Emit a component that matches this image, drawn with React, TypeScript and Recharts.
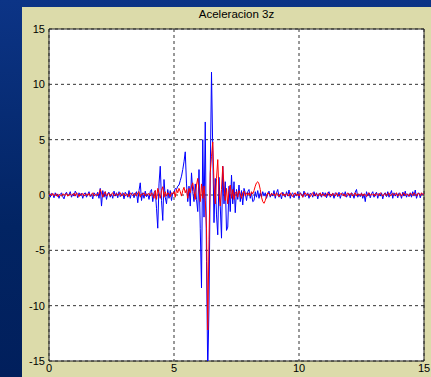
import { LineChart, Line, XAxis, YAxis, CartesianGrid, ReferenceArea } from 'recharts'

const title = 'Aceleracion 3z'
const step = 0.05
const xTicks = [0, 5, 10, 15]
const yTicks = [-15, -10, -5, 0, 5, 10, 15]

// blue trace, one row per 0.5 s
const blue = [
  0.1, -0.2, 0.15, 0.05, -0.25, 0.2, -0.1, 0.1, -0.3, 0.05,
  0.2, -0.15, -0.35, 0.1, 0.25, -0.1, 0.05, 0.3, -0.2, 0.1,
  -0.1, 0.35, 0.15, -0.25, 0.2, -0.05, 0.15, -0.3, 0.1, 0.2,
  -0.2, 0.05, 0.3, -0.15, 0.1, -0.35, 0.2, 0.0, -0.1, 0.25,
  -0.3, 0.6, -1.0, 0.4, -0.2, 0.3, -0.4, 0.15, 0.25, -0.2,
  0.1, -0.3, 0.35, -0.1, 0.2, -0.25, 0.3, -0.15, 0.1, 0.2,
  -0.35, 0.25, 0.05, -0.2, 0.4, -0.3, 0.15, 0.2, -0.25, 0.1,
  0.3, -0.7, 0.4, 1.1, -0.5, 0.2, -0.3, 0.35, -0.15, 0.1,
  -0.4, 0.3, 0.5, -0.6, 0.2, 0.4, -1.2, -3.0, 1.0, 2.6,
  -0.5, -2.3, 1.4, -0.2, -0.8, 0.5, -0.3, 0.4, -0.5, 0.2,
  0.2, 0.6, 0.5, 0.8, 0.9, 1.3, 1.7, 2.3, 3.0, 3.9,
  1.0, -0.6, 0.8, -1.0, 2.0, 0.3, -0.6, 1.0, -0.4, -1.5,
  2.3, -3.0, -8.4, 5.0, -2.0, 6.6, -6.0, -16, -10, 2.0,
  11.1, 4.0, -2.5, 1.5, -1.8, -3.6, 1.6, -1.0, -3.9, 2.6,
  -0.8, 1.2, -3.2, -2.9, 0.8, -1.5, 1.8, -0.8, 1.2, -1.6,
  0.5, -0.4, 0.9, -0.6, 0.4, -0.9, 0.6, 0.2, -0.5, 0.3,
  0.5, -0.3, 0.2, -0.6, -0.5, 0.3, -0.2, 0.4, -0.3, 0.2,
  -0.2, 0.3, -0.1, 0.2, -0.3, 0.1, 0.35, -0.2, 0.15, -0.1,
  0.4, -0.3, 0.2, 0.5, -0.2, 0.1, -0.35, 0.25, 0.0, -0.2,
  0.3, -0.1, 0.45, -0.3, 0.1, 0.2, -0.25, 0.1, -0.1, 0.3,
  -0.3, 0.2, 0.1, -0.2, 0.35, -0.15, 0.05, 0.2, -0.3, 0.15,
  0.1, -0.2, 0.3, -0.1, 0.2, -0.35, 0.15, 0.05, -0.2, 0.25,
  -0.1, 0.2, -0.25, 0.1, 0.3, -0.2, 0.05, 0.15, -0.3, 0.2,
  0.1, -0.15, 0.25, -0.3, 0.1, 0.2, -0.1, 0.3, -0.2, 0.05,
  0.15, -0.25, 0.2, 0.1, -0.3, 0.25, 0.5, -0.2, 0.1, -0.15,
  0.2, -0.3, 0.1, -0.6, 0.3, -0.1, 0.2, -0.25, 0.1, 0.3,
  -0.2, 0.1, 0.25, -0.3, 0.15, -0.1, 0.2, -0.35, 0.1, 0.2,
  -0.15, 0.3, -0.2, 0.1, 0.4, -0.3, 0.2, -0.1, 0.15, -0.25,
  0.2, 0.1, -0.3, 0.25, -0.1, 0.35, -0.2, 0.1, -0.15, 0.2,
  -0.2, 0.3, -0.1, 0.45, -0.3, 0.1, 0.2, -0.25, 0.15, 0.05,
  0.1,
]

// red trace
const red = [
  0.05, 0.1, -0.05, 0.15, -0.1, 0.05, 0.1, -0.15, 0.05, 0.0,
  -0.1, 0.1, 0.05, -0.05, 0.15, -0.1, 0.0, 0.1, -0.05, 0.05,
  0.15, -0.1, 0.2, 0.05, -0.15, 0.1, 0.0, 0.15, -0.1, 0.05,
  0.1, -0.05, 0.15, -0.1, 0.05, 0.2, -0.1, 0.05, 0.1, -0.05,
  0.1, 0.5, 0.2, -0.2, 0.1, 0.3, -0.1, 0.05, 0.15, -0.1,
  0.1, 0.2, -0.1, 0.05, 0.15, -0.05, 0.1, 0.2, -0.1, 0.05,
  0.15, -0.1, 0.1, 0.05, -0.15, 0.2, 0.05, -0.05, 0.1, 0.15,
  -0.1, 0.2, 0.3, -0.2, 0.1, 0.05, 0.2, -0.1, 0.1, 0.05,
  0.15, -0.1, 0.2, 0.05, -0.3, 0.4, -0.4, 0.6, 0.2, -0.3,
  0.4, 0.75, -0.2, 0.3, -0.1, 0.2, 0.1, -0.15, 0.2, 0.1,
  0.3, -0.2, 0.5, 0.2, 0.6, 0.3, -0.1, 0.4, 0.7, 0.2,
  0.5, -0.3, 0.6, 0.2, 0.8, 1.1, 0.3, -0.4, 0.9, 1.5,
  0.4, -0.6, 1.0, -0.3, 0.8, -0.5, -3.0, -12.2, -4.0, 2.0,
  3.5, 4.8, 1.0, -0.8, 1.5, 3.2, 0.2, -1.0, 0.5, 2.6,
  0.8, -0.5, 0.6, -0.8, 0.4, 0.9, -0.3, 0.5, -0.4, 0.2,
  0.3, -0.2, 0.4, 0.1, -0.3, 0.2, 0.35, -0.1, 0.2, 0.0,
  0.2, -0.1, 0.3, 0.1, 0.4, 0.8, 1.1, 1.2, 1.0, 0.5,
  -0.2, -0.6, -0.75, -0.5, -0.1, 0.2, 0.1, -0.1, 0.15, 0.05,
  0.1, -0.1, 0.2, 0.05, -0.15, 0.1, 0.2, -0.05, 0.1, -0.1,
  0.15, 0.05, -0.1, 0.2, 0.0, -0.15, 0.1, 0.2, -0.05, 0.1,
  -0.1, 0.15, 0.05, -0.2, 0.1, 0.2, -0.05, 0.1, 0.0, -0.15,
  0.1, 0.2, -0.1, 0.05, 0.15, -0.1, 0.05, 0.2, -0.1, 0.1,
  0.05, -0.15, 0.1, 0.2, -0.05, 0.1, -0.1, 0.15, 0.05, -0.1,
  0.2, 0.05, -0.1, 0.1, 0.15, -0.05, 0.1, -0.15, 0.05, 0.2,
  -0.05, 0.1, 0.15, -0.1, 0.05, 0.2, -0.1, 0.1, 0.05, -0.05,
  0.15, -0.1, 0.1, 0.05, -0.15, 0.1, 0.2, -0.05, 0.1, 0.0,
  0.1, -0.1, 0.15, 0.05, -0.05, 0.2, 0.1, -0.1, 0.05, 0.15,
  -0.05, 0.1, 0.2, -0.1, 0.05, 0.15, -0.05, 0.1, 0.2, -0.1,
  0.05, 0.15, -0.1, 0.1, 0.2, -0.05, 0.1, 0.05, -0.1, 0.15,
  0.1, -0.05, 0.2, 0.05, -0.1, 0.15, 0.1, -0.05, 0.2, 0.05,
  0.1,
]

const data = blue.map((b, i) => ({ t: +(i * step).toFixed(2), blue: b, red: red[i] }))

const font = '"Liberation Sans", Arial, sans-serif'
const tickStyle = { fill: '#000', fontSize: 11, fontFamily: font }

export default function App() {
  return (
    <div
      style={{
        position: 'fixed',
        left: 0,
        top: 0,
        width: 431,
        height: 377,
        overflow: 'hidden',
        background: 'linear-gradient(to bottom, #0c3486 0%, #022463 60%, #011f5c 100%)',
      }}
    >
      <div style={{ position: 'absolute', left: 22, top: 7, width: 409, height: 370, background: '#dcdbaa' }} />
      <div
        style={{
          position: 'absolute',
          left: 49,
          width: 375,
          top: 8,
          textAlign: 'center',
          fontFamily: font,
          fontSize: 11.5,
          color: '#000',
        }}
      >
        {title}
      </div>
      <div style={{ position: 'absolute', left: 0, top: 0 }}>
        <LineChart width={431} height={377} data={data} margin={{ top: 29, right: 7, bottom: 0, left: 19 }}>
          <CartesianGrid stroke="#333" strokeDasharray="3 3" fill="#fff" fillOpacity={1} />
          <XAxis
            dataKey="t"
            type="number"
            domain={[0, 15]}
            ticks={xTicks}
            allowDataOverflow
            height={16}
            tickSize={0}
            tickMargin={3}
            axisLine={false}
            tick={tickStyle}
          />
          <YAxis
            type="number"
            domain={[-15, 15]}
            ticks={yTicks}
            allowDataOverflow
            width={30}
            tickSize={0}
            tickMargin={4}
            axisLine={false}
            tick={tickStyle}
          />
          <Line dataKey="blue" stroke="#0000ff" strokeWidth={1} dot={false} isAnimationActive={false} />
          <Line dataKey="red" stroke="#ff0000" strokeWidth={1} dot={false} isAnimationActive={false} />
          <ReferenceArea x1={0} x2={15} y1={-15} y2={15} fill="none" stroke="#222" strokeWidth={1} ifOverflow="visible" />
        </LineChart>
      </div>
    </div>
  )
}
